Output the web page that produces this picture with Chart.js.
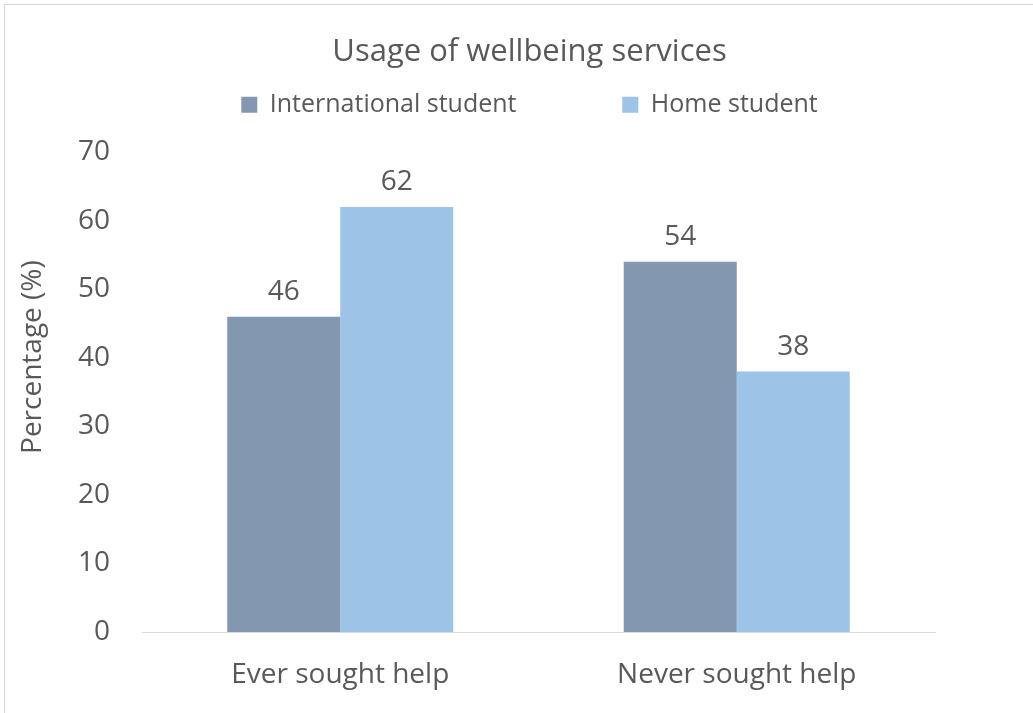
<!DOCTYPE html>
<html>
<head>
<meta charset="utf-8">
<script src="https://cdn.jsdelivr.net/npm/chart.js@4.4.0/dist/chart.umd.min.js"></script>
<style>
  html, body { margin: 0; padding: 0; background: #fff; }
  #wrap { position: relative; width: 1033px; height: 713px; }
  #frame { position: absolute; left: 4px; top: 4px; right: 0; bottom: 0;
           border-top: 1px solid #d9d9d9; border-left: 1px solid #d9d9d9; pointer-events: none; }
  canvas { position: absolute; left: 0; top: 0; }
</style>
</head>
<body>
<div id="wrap">
  <canvas id="myChart1" width="1033" height="713"></canvas>
  <div id="frame"></div>
</div>
<script>
// chart values
const categories = ["Ever sought help", "Never sought help"];
const internationalData = [46, 54];
const homeData = [62, 38];
const seriesNames = ["International student", "Home student"];

const FONT = "'Open Sans', sans-serif";
const TEXT = "#595959";

// prints each bar's value above it
const valueLabels = {
    id: "valueLabels",
    afterDatasetsDraw(chart) {
        const ctx = chart.ctx;
        ctx.save();
        ctx.font = "28px " + FONT;
        ctx.fillStyle = TEXT;
        ctx.textAlign = "center";
        ctx.textBaseline = "middle";
        chart.data.datasets.forEach((ds, i) => {
            chart.getDatasetMeta(i).data.forEach((bar, j) => {
                ctx.fillText(ds.data[j], bar.x, bar.y - 25);
            });
        });
        ctx.restore();
    }
};

// empty axis used only to reserve space around the plot
function spacer(position, size) {
    return {
        type: "linear",
        position: position,
        display: true,
        grid: { display: false, drawTicks: false },
        border: { display: false },
        ticks: { display: false },
        afterFit(scale) {
            if (scale.isHorizontal()) scale.height = size; else scale.width = size;
        }
    };
}

const ctx = document.getElementById("myChart1").getContext("2d");
const myChart1 = new Chart(ctx, {
    type: "bar",
    data: {
        labels: categories,
        datasets: [
            {
                label: seriesNames[0],
                data: internationalData,
                backgroundColor: "#8497b0",
                borderWidth: 0
            },
            {
                label: seriesNames[1],
                data: homeData,
                backgroundColor: "#9dc3e6",
                borderWidth: 0
            }
        ]
    },
    options: {
        responsive: false,
        animation: false,
        layout: { padding: { top: 0, right: 0, bottom: 0, left: 26 } },
        datasets: {
            bar: { barPercentage: 1, categoryPercentage: 0.57 }
        },
        plugins: {
            title: {
                display: true,
                text: "Usage of wellbeing services",
                color: TEXT,
                font: { family: FONT, size: 31, weight: "normal" },
                padding: { top: 34, bottom: 11 }
            },
            legend: {
                display: true,
                labels: {
                    color: TEXT,
                    font: { family: FONT, size: 25 },
                    boxWidth: 16,
                    boxHeight: 16,
                    padding: 10,
                    generateLabels(chart) {
                        const items = Chart.defaults.plugins.legend.labels.generateLabels(chart);
                        // wider gap after the first entry
                        items[0].text += "\u2003\u2003\u2003\u2002\u2009\u2009";
                        return items;
                    }
                }
            },
            tooltip: { enabled: false }
        },
        scales: {
            x: {
                grid: { display: false, drawTicks: false },
                border: { display: true, color: "#d9d9d9", width: 1 },
                ticks: { color: TEXT, font: { family: FONT, size: 28 }, padding: 26 },
                afterFit(scale) { scale.height = 81; }
            },
            y: {
                min: 0,
                max: 70,
                ticks: { stepSize: 10, color: TEXT, font: { family: FONT, size: 28 }, padding: 32 },
                grid: { display: false, drawTicks: false },
                border: { display: false },
                title: {
                    display: true,
                    // leading spaces lift the rotated label a little above the axis middle
                    text: "\u2003\u2003\u2002Percentage (%)",
                    color: TEXT,
                    font: { family: FONT, size: 28 },
                    padding: { top: -10, bottom: 0 }
                },
                afterFit(scale) { scale.width = 116; }
            },
            padTop: spacer("top", 25),
            padRight: spacer("right", 98)
        }
    },
    plugins: [valueLabels]
});
</script>
</body>
</html>
